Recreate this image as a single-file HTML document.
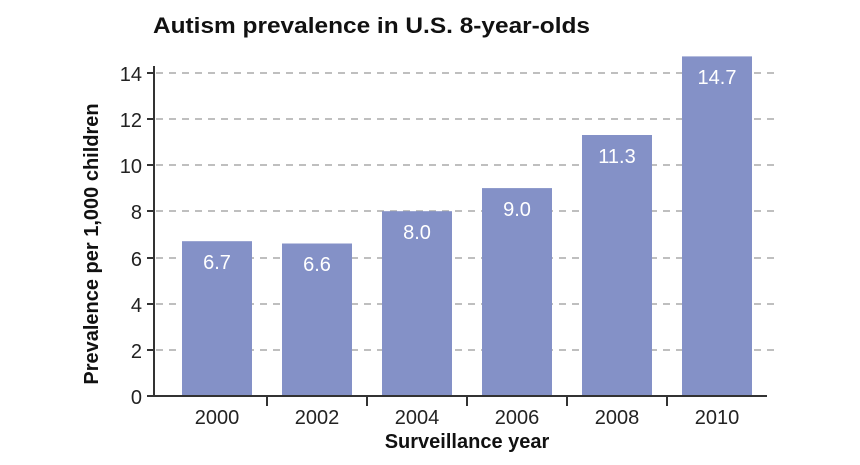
<!DOCTYPE html>
<html><head><meta charset="utf-8"><style>
body{margin:0;background:#fff}
text{font-family:"Liberation Sans",sans-serif}
</style></head><body>
<svg width="860" height="460" xmlns="http://www.w3.org/2000/svg">
<text x="153" y="33" font-size="22" font-weight="bold" fill="#111" textLength="437" lengthAdjust="spacingAndGlyphs">Autism prevalence in U.S. 8-year-olds</text>
<g stroke="#aaa" stroke-width="1.5" stroke-dasharray="7,6">
<line x1="156" x2="777" y1="350" y2="350"/>
<line x1="156" x2="777" y1="304" y2="304"/>
<line x1="156" x2="777" y1="258" y2="258"/>
<line x1="156" x2="777" y1="211" y2="211"/>
<line x1="156" x2="777" y1="165" y2="165"/>
<line x1="156" x2="777" y1="119" y2="119"/>
<line x1="156" x2="777" y1="73" y2="73"/>
</g>
<g fill="#8491c7">
<rect x="182" y="241.2" width="70" height="154.8"/>
<rect x="282" y="243.5" width="70" height="152.5"/>
<rect x="382" y="211.2" width="70" height="184.8"/>
<rect x="482" y="188.1" width="70" height="207.9"/>
<rect x="582" y="135" width="70" height="261"/>
<rect x="682" y="56.4" width="70" height="339.6"/>
</g>
<g fill="#fff" font-size="20" text-anchor="middle">
<text x="217" y="269">6.7</text>
<text x="317" y="271">6.6</text>
<text x="417" y="239">8.0</text>
<text x="517" y="216">9.0</text>
<text x="617" y="163">11.3</text>
<text x="717" y="84">14.7</text>
</g>
<g stroke="#333" stroke-width="2">
<line x1="154" x2="154" y1="66" y2="397"/>
<line x1="147" x2="767" y1="396" y2="396"/>
<line x1="147" x2="154" y1="350" y2="350"/>
<line x1="147" x2="154" y1="304" y2="304"/>
<line x1="147" x2="154" y1="258" y2="258"/>
<line x1="147" x2="154" y1="211" y2="211"/>
<line x1="147" x2="154" y1="165" y2="165"/>
<line x1="147" x2="154" y1="119" y2="119"/>
<line x1="147" x2="154" y1="73" y2="73"/>
<line x1="267" x2="267" y1="396" y2="406"/>
<line x1="367" x2="367" y1="396" y2="406"/>
<line x1="467" x2="467" y1="396" y2="406"/>
<line x1="567" x2="567" y1="396" y2="406"/>
<line x1="667" x2="667" y1="396" y2="406"/>
</g>
<g fill="#222" font-size="20" text-anchor="end">
<text x="142" y="404">0</text>
<text x="142" y="358">2</text>
<text x="142" y="312">4</text>
<text x="142" y="266">6</text>
<text x="142" y="219">8</text>
<text x="142" y="173">10</text>
<text x="142" y="127">12</text>
<text x="142" y="81">14</text>
</g>
<g fill="#222" font-size="20" text-anchor="middle">
<text x="217" y="424">2000</text>
<text x="317" y="424">2002</text>
<text x="417" y="424">2004</text>
<text x="517" y="424">2006</text>
<text x="617" y="424">2008</text>
<text x="717" y="424">2010</text>
</g>
<text x="467" y="448" font-size="20" font-weight="bold" text-anchor="middle" fill="#111">Surveillance year</text>
<text transform="translate(98,244) rotate(-90)" font-size="20" font-weight="bold" text-anchor="middle" fill="#111">Prevalence per 1,000 children</text>
</svg>
</body></html>
